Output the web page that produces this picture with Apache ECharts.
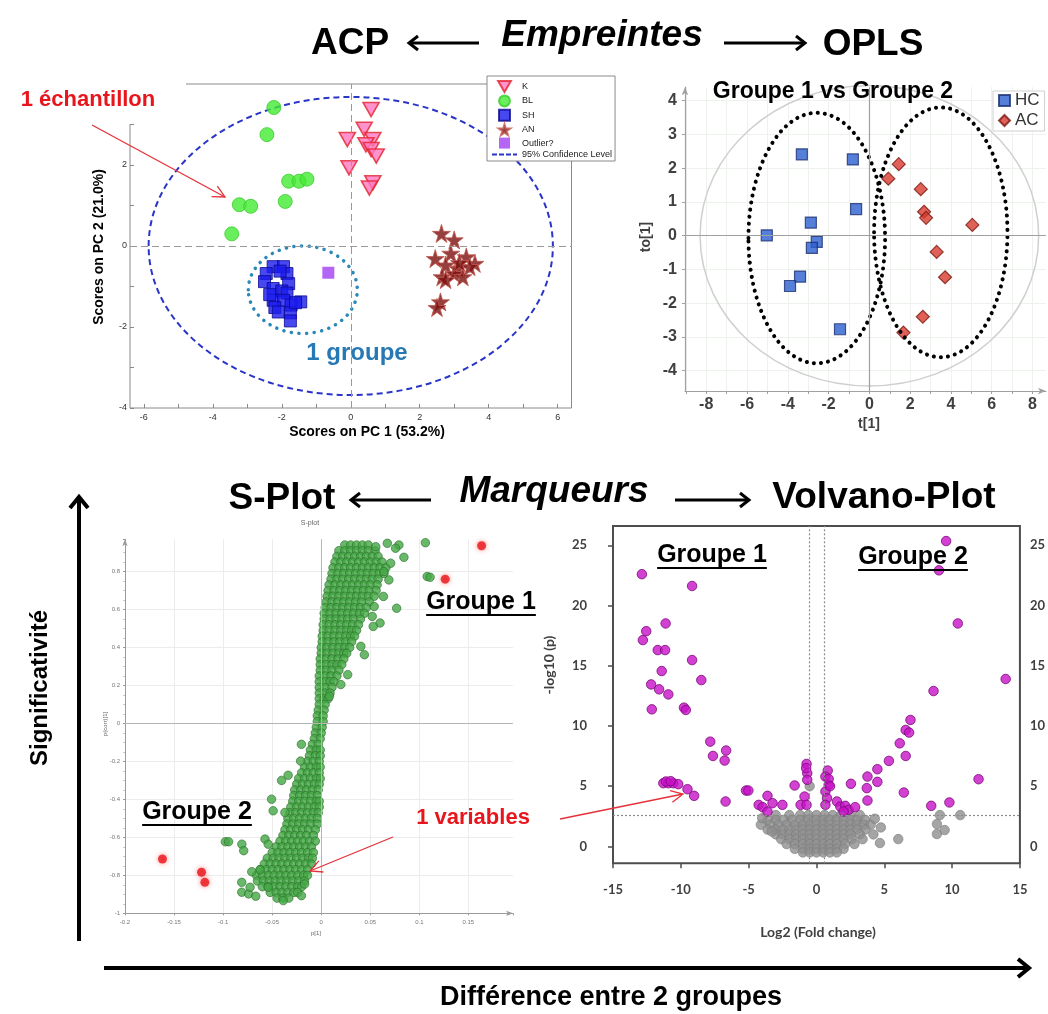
<!DOCTYPE html>
<html><head><meta charset="utf-8">
<script src="https://cdn.jsdelivr.net/npm/echarts@6/dist/echarts.min.js"></script>
<style>html,body{margin:0;padding:0;background:#fff}#c{width:1048px;height:1014px}</style>
</head><body><div id="c"></div>
<script>
// ================= DATA =================
// ACP (PCA scores)
const acpK = [[0.59,3.37],[0.39,2.88],[-0.10,2.63],[0.64,2.63],[0.44,2.50],[0.59,2.38],[0.74,2.22],[-0.05,1.93],[0.64,1.56],[0.54,1.43]];
const acpBL = [[-2.23,3.42],[-2.43,2.75],[-1.80,1.60],[-1.50,1.60],[-1.27,1.65],[-1.90,1.10],[-3.23,1.02],[-2.90,0.98],[-3.45,0.30]];
const acpSH = [[-2.25,-0.51],[-1.95,-0.51],[-2.45,-0.68],[-1.85,-0.68],[-2.50,-0.88],[-1.80,-0.93],[-2.25,-1.05],[-2.00,-1.11],[-1.85,-1.16],[-2.25,-1.34],[-1.95,-1.34],[-1.45,-1.38],[-2.20,-1.52],[-1.73,-1.46],[-1.75,-1.65],[-1.75,-1.85],[-2.10,-1.63],[-2.05,-0.62],[-2.35,-1.20],[-1.60,-1.40]];
const acpAN = [[2.63,0.31],[3.00,0.15],[2.45,-0.31],[2.90,-0.18],[3.35,-0.27],[3.60,-0.43],[2.75,-0.47],[3.10,-0.55],[3.45,-0.51],[2.65,-0.76],[3.00,-0.68],[3.25,-0.76],[2.60,-1.38],[2.50,-1.52],[3.15,-0.41],[2.75,-0.83]];
const acpOutlier = [[-0.65,-0.66]];
const acpConf95 = [[0, 0, 5.86, 3.68]];          // centre x, centre y, radius x, radius y
const acpGroupEllipse = [[-1.39, -1.08, 1.58, 1.08]];
const acpXTickLabels = [-6,-4,-2,0,2,4,6];
const acpXTicks = [-6,-5,-4,-3,-2,-1,0,1,2,3,4,5,6];
const acpYTickLabels = [-4,-2,0,2];
const acpYTicks = [-4,-3,-2,-1,0,1,2,3];

// OPLS
const oplsHC = [[-3.31,2.41],[-0.81,2.26],[-0.65,0.79],[-2.87,0.39],[-5.03,0.01],[-2.58,-0.18],[-2.82,-0.36],[-3.40,-1.21],[-3.89,-1.49],[-1.44,-2.77]];
const oplsAC = [[1.44,2.12],[0.93,1.69],[2.52,1.38],[2.68,0.71],[2.78,0.53],[5.05,0.32],[3.30,-0.48],[3.71,-1.23],[2.62,-2.40],[1.67,-2.87]];
const oplsT2 = [[0, 0, 8.3, 4.45]];
const oplsGroupEllipses = [[-2.58, -0.07, 3.35, 3.71],[3.50, 0.10, 3.27, 3.70]];
const oplsXTickLabels = [-8,-6,-4,-2,0,2,4,6,8];
const oplsXTicks = [-9,-8,-7,-6,-5,-4,-3,-2,-1,0,1,2,3,4,5,6,7,8];
const oplsYTickLabels = [-4,-3,-2,-1,0,1,2,3,4];

// S-plot : rows of [p(corr) value, p values...]
const sRows = [
 [0.94, .024,.030,.036,.042,.048],
 [0.91, .018,.024,.030,.036,.042,.048,.055],
 [0.88, .016,.022,.028,.034,.040,.046,.052,.058],
 [0.85, .014,.020,.026,.032,.038,.044,.050,.056,.062],
 [0.82, .012,.018,.024,.030,.036,.042,.048,.054,.060,.066],
 [0.79, .011,.017,.023,.029,.035,.041,.047,.053,.059,.064],
 [0.76, .010,.016,.022,.028,.034,.040,.046,.052,.058],
 [0.73, .008,.014,.020,.026,.032,.038,.044,.050,.057],
 [0.70, .007,.013,.019,.025,.031,.037,.043,.049,.056],
 [0.67, .006,.012,.018,.024,.030,.036,.042,.048,.054],
 [0.64, .005,.011,.017,.023,.029,.035,.041,.049],
 [0.61, .004,.010,.016,.022,.028,.034,.040,.046],
 [0.58, .003,.009,.015,.021,.027,.033,.039,.044],
 [0.55, .003,.009,.015,.021,.027,.033,.040],
 [0.52, .002,.008,.014,.020,.026,.032,.038],
 [0.49, .002,.008,.014,.020,.026,.031,.036],
 [0.46, .001,.007,.013,.019,.025,.030,.034],
 [0.43, .001,.007,.013,.019,.025,.031],
 [0.40, .000,.006,.012,.018,.024,.029],
 [0.37, .000,.006,.012,.018,.023,.026],
 [0.34, -.001,.005,.011,.017,.023],
 [0.31, -.001,.005,.011,.016,.021],
 [0.28, -.001,.005,.011,.018],
 [0.25, -.002,.004,.010,.016],
 [0.22, -.002,.004,.009,.013],
 [0.19, -.002,.004,.011],
 [0.16, -.002,.004,.009],
 [0.13, -.002,.003,.007],
 [0.10, -.002,.004],
 [0.07, -.003,.003],
 [0.04, -.004,.002],
 [0.01, -.004,.002],
 [-0.02, -.005,.001],
 [-0.05, -.006,.000],
 [-0.08, -.007,-.001],
 [-0.11, -.009,-.003],
 [-0.14, -.011,-.005,-.001],
 [-0.17, -.012,-.006,-.001],
 [-0.20, -.014,-.008,-.002],
 [-0.23, -.017,-.011,-.005,-.001],
 [-0.26, -.020,-.014,-.008,-.002],
 [-0.29, -.023,-.017,-.011,-.005,-.001],
 [-0.32, -.025,-.019,-.013,-.007,-.002],
 [-0.35, -.027,-.021,-.015,-.009,-.003],
 [-0.38, -.028,-.022,-.016,-.010,-.004],
 [-0.41, -.029,-.023,-.017,-.011,-.005,-.002],
 [-0.44, -.031,-.025,-.019,-.013,-.007,-.002],
 [-0.47, -.032,-.026,-.020,-.014,-.008,-.003],
 [-0.50, -.034,-.028,-.022,-.016,-.010,-.004],
 [-0.53, -.035,-.029,-.023,-.017,-.011,-.004],
 [-0.56, -.037,-.031,-.025,-.019,-.013,-.006],
 [-0.59, -.039,-.033,-.027,-.021,-.015,-.008],
 [-0.62, -.042,-.036,-.030,-.024,-.018,-.012,-.006],
 [-0.65, -.046,-.040,-.034,-.028,-.022,-.016,-.010],
 [-0.68, -.050,-.044,-.038,-.032,-.026,-.020,-.014,-.008],
 [-0.71, -.055,-.049,-.043,-.037,-.031,-.025,-.019,-.013,-.009],
 [-0.74, -.058,-.052,-.046,-.040,-.034,-.028,-.022,-.016,-.010],
 [-0.77, -.062,-.056,-.050,-.044,-.038,-.032,-.026,-.020,-.014],
 [-0.80, -.066,-.060,-.054,-.048,-.042,-.036,-.030,-.024,-.018,-.014],
 [-0.83, -.065,-.059,-.053,-.047,-.041,-.035,-.029,-.023,-.017],
 [-0.86, -.060,-.054,-.048,-.042,-.036,-.030,-.024,-.020],
 [-0.89, -.052,-.046,-.040,-.034,-.028,-.024],
 [-0.92, -.045,-.039,-.033]
];
const sScatter = [[0.0674,0.949],[0.0792,0.94],[0.1062,0.952],[0.0758,0.923],[0.0843,0.875],[0.0708,0.844],[0.108,0.774],[0.111,0.77],[0.064,0.80],[0.069,0.756],[0.0634,0.669],[0.0769,0.607],[0.054,0.616],[0.052,0.564],[0.060,0.529],[0.053,0.511],[0.044,0.362],[0.0404,0.406],[0.027,0.257],[0.020,0.205],[0.0084,0.143],[0.0556,0.931],
 [-0.0202,-0.110],[-0.021,-0.198],[-0.0404,-0.30],[-0.0337,-0.273],[-0.0506,-0.399],[-0.049,-0.46],[-0.037,-0.469],[-0.0977,-0.623],[-0.0944,-0.623],[-0.0809,-0.636],[-0.079,-0.67],[-0.0573,-0.609],[-0.054,-0.636],[-0.0708,-0.781],[-0.0624,-0.77],[-0.081,-0.837],[-0.081,-0.889],[-0.074,-0.898],[-0.0667,-0.91],[-0.0725,-0.863],[-0.054,-0.863],[-0.0387,-0.933],[-0.0202,-0.907],[-0.0169,-0.846]];
const sRed = [[-0.1618,-0.714],[-0.122,-0.784],[-0.1186,-0.837],[0.1264,0.76],[0.1635,0.936]];
const sXTickLabels = [-0.2,-0.15,-0.1,-0.05,0,0.05,0.1,0.15];
const sYTickLabels = [-1,-0.8,-0.6,-0.4,-0.2,0,0.2,0.4,0.6,0.8];

// Volcano plot
const volMagenta = [[-12.87,22.6],[-9.17,21.62],[-11.12,18.51],[-12.55,17.87],[-12.8,17.13],[-11.7,16.3],[-11.16,16.3],[-11.41,14.56],[-9.17,15.47],[-8.49,13.81],[-12.19,13.45],[-11.6,13.04],[-10.92,12.62],[-12.14,11.38],[-9.77,11.52],[-9.63,11.33],[-7.83,8.7],[-7.63,7.51],[-6.66,7.96],[-6.77,7.13],[-11.29,5.25],[-10.92,5.25],[-10.56,5.25],[-10.19,5.17],[-11.1,5.39],[-10.75,5.42],[-9.51,4.75],[-9.02,4.2],[-6.7,3.73],[-5.19,4.64],[-5.02,4.64],[-3.61,4.2],[-4.26,3.45],[-3.97,3.26],[-3.61,2.9],[-3.24,3.59],[-2.51,3.45],[-1.61,5.06],[-1.17,3.45],[-0.88,4.14],[-0.73,6.85],[-0.68,6.08],[-0.68,5.53],[-0.73,3.45],[-0.76,6.5],[0.83,6.3],[0.66,5.8],[0.9,5.11],[0.66,4.56],[0.78,4.01],[0.66,3.45],[0.9,5.6],[1.0,5.0],[1.51,3.73],[1.76,3.31],[2.12,3.37],[2.37,3.04],[2.85,3.26],[2.0,2.9],[2.54,5.2],[3.76,5.8],[3.71,4.84],[3.76,3.81],[4.49,6.41],[4.49,5.36],[5.34,7.1],[6.14,8.56],[6.58,9.67],[6.83,9.45],[6.93,10.5],[6.58,7.51],[6.44,4.47],[8.46,3.37],[9.8,3.65],[8.63,12.9],[9.03,22.92],[9.56,25.35],[10.42,18.51],[11.95,5.58],[13.95,13.9]];
const volGrayRows = [
 [2.6, -3.0,-2.0,-1.2,-0.6,0.0,0.6,1.2,1.8,2.5,3.2],
 [2.2, -3.6,-3.0,-2.4,-1.8,-1.2,-0.6,0.0,0.5,1.0,1.5,2.0,2.5,3.0,3.6],
 [1.8, -4.1,-3.4,-2.8,-2.2,-1.6,-1.0,-0.5,0.0,0.5,1.0,1.5,2.0,2.5,3.0,3.5,4.0],
 [1.4, -3.6,-3.0,-2.5,-2.0,-1.5,-1.0,-0.5,0.0,0.5,1.0,1.5,2.0,2.5,3.0,3.6],
 [1.0, -3.0,-2.5,-2.0,-1.5,-1.0,-0.5,0.0,0.5,1.0,1.5,2.0,2.5,3.2,4.2],
 [0.6, -2.6,-2.0,-1.5,-1.0,-0.5,0.0,0.5,1.0,1.5,2.0,2.6,3.4],
 [0.2, -2.2,-1.6,-1.0,-0.5,0.0,0.5,1.0,1.5,2.1,2.8],
 [-0.2, -1.6,-1.0,-0.5,0.0,0.5,1.0,1.5,2.0],
 [-0.5, -1.0,-0.5,0.0,0.5,1.0,1.5]
];
const volGrayScatter = [[9.1,2.6],[10.6,2.6],[8.88,1.86],[8.88,1.03],[9.45,1.36],[6.03,0.61],[4.68,0.28],[4.75,1.58],[4.3,2.3],[-4.0,2.35],[-3.3,1.24],[-0.5,5.0]];
const volFoldCut = [-0.56, 0.54];
const volPCut = 2.62;
const volYTickLabels = [0,5,10,15,20,25];

// ================= BUILD =================
const F = 'Liberation Sans, Arial, sans-serif';
const LATO = 'Lato, Liberation Sans, sans-serif';
const flattenRows = rows => { const out = []; rows.forEach(r => { for (let i = 1; i < r.length; i++) out.push([r[i], r[0]]); }); return out; };
const sGreen = flattenRows(sRows).concat(sScatter);
const volGray = flattenRows(volGrayRows).concat(volGrayScatter);

const triPath = 'path://M0,0L14,0L7,12Z';
const starPath = 'path://M50,0L61,35L98,35L68,57L79,91L50,70L21,91L32,57L2,35L39,35Z';
const sqPath = 'path://M0,0h10v10h-10z';
const dashPath = 'path://M0,0h5v2h-5zM7,0h5v2h-5zM14,0h5v2h-5zM21,0h4v2h-4z';

function ellipseSeries(name, xi, yi, data, style, z) {
  return {
    type: 'custom', name, xAxisIndex: xi, yAxisIndex: yi, data, silent: true, clip: false, z: z || 1,
    itemStyle: { color: style.stroke },
    renderItem(params, api) {
      const c = api.coord([api.value(0), api.value(1)]);
      const s = api.size([api.value(2), api.value(3)]);
      return { type: 'ellipse', shape: { cx: c[0], cy: c[1], rx: s[0], ry: s[1] },
        style: Object.assign({ fill: 'none' }, style) };
    }
  };
}

const ctx = document.createElement('canvas').getContext('2d');
function textW(t, size, weight) { ctx.font = (weight || 'bold') + ' ' + size + 'px "Liberation Sans", Arial'; return ctx.measureText(t).width; }

function txt(text, x, y, o) {
  o = o || {};
  return { type: 'text', x, y, rotation: o.rot || 0, z: 100,
    style: { text, x: 0, y: 0, fill: o.color || '#000', fontSize: o.size || 14, fontWeight: o.weight || 'bold',
      fontStyle: o.italic ? 'italic' : 'normal', fontFamily: o.family || F, align: 'center', verticalAlign: 'middle' } };
}
function underlined(text, x, y, size) {
  const w = textW(text, size);
  return [txt(text, x, y, { size }),
    { type: 'line', z: 100, shape: { x1: x - w / 2, y1: y + size * 0.52, x2: x + w / 2, y2: y + size * 0.52 }, style: { stroke: '#000', lineWidth: 2 } }];
}
function arrow(x1, y1, x2, y2, o) {
  const a = Math.atan2(y2 - y1, x2 - x1), L = o.len, H = o.half;
  const p1 = [x2 - L * Math.cos(a) + H * Math.sin(a), y2 - L * Math.sin(a) - H * Math.cos(a)];
  const p2 = [x2 - L * Math.cos(a) - H * Math.sin(a), y2 - L * Math.sin(a) + H * Math.cos(a)];
  return [
    { type: 'line', z: 90, shape: { x1, y1, x2, y2 }, style: { stroke: o.color, lineWidth: o.width } },
    { type: 'polyline', z: 90, shape: { points: [p1, [x2, y2], p2] }, style: { stroke: o.color, lineWidth: o.width, fill: 'none', lineJoin: 'miter' } }
  ];
}

const black = { color: '#000', width: 3, len: 9, half: 7 };
const big = { color: '#000', width: 4, len: 11, half: 9 };
const red = { color: '#e5323a', width: 1.3, len: 12, half: 6 };

const graphics = [
  { type: 'rect', z: 50, shape: { x: 124, y: 79, width: 62, height: 45 }, style: { fill: '#fff' } },
  txt('ACP', 350, 44, { size: 37 }),
  txt('Empreintes', 602, 36, { size: 37, italic: true }),
  txt('OPLS', 873, 45, { size: 37 }),
  txt('S-Plot', 282, 499, { size: 37 }),
  txt('Marqueurs', 554, 492, { size: 37, italic: true }),
  txt('Volvano-Plot', 884, 498, { size: 37 }),
  ...arrow(479, 43, 409, 43, black),
  ...arrow(724, 43, 805, 43, black),
  ...arrow(431, 500, 351, 500, black),
  ...arrow(675, 500, 749, 500, black),
  ...arrow(79, 941, 79, 497, big),
  ...arrow(104, 968, 1029, 968, big),
  txt('Différence entre 2 groupes', 611, 998, { size: 27 }),
  txt('Significativité', 40, 688, { size: 24, rot: Math.PI / 2 }),
  txt('1 échantillon', 88, 100, { size: 22, color: '#e8161c' }),
  ...arrow(92, 125, 225, 197, red),
  txt('1 groupe', 357, 353, { size: 24, color: '#2779b5' }),
  txt('1 variables', 473, 818, { size: 22, color: '#e8161c' }),
  ...arrow(393, 837, 310, 871, red),
  ...arrow(560, 819, 683, 794, red),
  ...underlined('Groupe 1', 481, 602, 25),
  ...underlined('Groupe 2', 197, 812, 25),
  ...underlined('Groupe 1', 712, 555, 25),
  ...underlined('Groupe 2', 913, 557, 25),
  txt('Groupe 1 vs Groupe 2', 833, 92, { size: 23 }),
  txt('Scores on PC 1 (53.2%)', 367, 432, { size: 14 }),
  txt('Scores on PC 2 (21.0%)', 99, 247, { size: 14, rot: Math.PI / 2 }),
  txt('t[1]', 869, 424, { size: 14, color: '#404040' }),
  txt('to[1]', 646, 237, { size: 14, color: '#404040', rot: Math.PI / 2 }),
  txt('S-plot', 310, 523, { size: 7, weight: 'normal', color: '#666' }),
  txt('p[1]', 316, 933, { size: 6, weight: 'normal', color: '#666' }),
  txt('p(corr)[1]', 105, 724, { size: 6, weight: 'normal', color: '#666', rot: Math.PI / 2 }),
  txt('Log2 (Fold change)', 818, 932, { size: 14, family: LATO, color: '#404040' }),
  txt('-log10 (p)', 549, 665, { size: 14, family: LATO, color: '#404040', rot: Math.PI / 2 })
];

const lbl = (extra) => Object.assign({ fontFamily: F, color: '#333' }, extra);

const option = {
  animation: false,
  backgroundColor: '#fff',
  grid: [
    { left: 130, right: 476.5, top: 84, bottom: 606, show: true, borderColor: '#8a8a8a', borderWidth: 1, backgroundColor: 'transparent' },
    { left: 685, right: 2, top: 87.2, bottom: 623, show: false },
    { left: 125, right: 535, top: 539.3, bottom: 100.7, show: false },
    { left: 613, right: 24, top: 526, bottom: 150.7, show: true, borderColor: '#4d4d4d', borderWidth: 2, backgroundColor: 'transparent' }
  ],
  xAxis: [
    { gridIndex: 0, type: 'value', min: -6.4, max: 6.4,
      axisLine: { show: false, onZero: false },
      axisTick: { show: true, inside: true, length: 4, customValues: acpXTicks, lineStyle: { color: '#888' } },
      axisLabel: lbl({ customValues: acpXTickLabels, fontSize: 9, margin: 5 }), splitLine: { show: false } },
    { gridIndex: 1, type: 'value', min: -9.04, max: 8.66, splitNumber: 18,
      axisLine: { show: true, onZero: false, symbol: ['none', 'arrow'], symbolSize: [5, 8], lineStyle: { color: '#a0a0a0', width: 1.2 } },
      axisTick: { show: true, length: 3, customValues: oplsXTicks, lineStyle: { color: '#a0a0a0' } },
      axisLabel: lbl({ customValues: oplsXTickLabels, fontSize: 16, fontWeight: 'bold', color: '#404040', margin: 6 }),
      splitLine: { show: true, lineStyle: { color: '#edf2ed' } } },
    { gridIndex: 2, type: 'value', min: -0.2, max: 0.1955, interval: 0.05,
      axisLine: { show: true, onZero: false, symbol: ['none', 'arrow'], symbolSize: [4, 7], lineStyle: { color: '#9a9a9a' } },
      axisTick: { show: true, length: 2, lineStyle: { color: '#9a9a9a' } },
      axisLabel: lbl({ customValues: sXTickLabels, fontSize: 6, color: '#777', margin: 6 }),
      splitLine: { show: true, showMaxLine: false, lineStyle: { color: '#ececec' } } },
    { gridIndex: 3, type: 'value', min: -15, max: 15, interval: 5,
      axisLine: { show: false, onZero: false },
      axisTick: { show: true, length: 5, lineStyle: { color: '#4d4d4d', width: 1.5 } },
      axisLabel: { fontFamily: LATO, fontSize: 13, fontWeight: 'bold', color: '#404040', margin: 20 },
      splitLine: { show: false } }
  ],
  yAxis: [
    { gridIndex: 0, type: 'value', min: -4, max: 4,
      axisLine: { show: false, onZero: false },
      axisTick: { show: true, inside: true, length: 4, customValues: acpYTicks, lineStyle: { color: '#888' } },
      axisLabel: lbl({ customValues: acpYTickLabels, fontSize: 9, margin: 3 }), splitLine: { show: false } },
    { gridIndex: 1, type: 'value', min: -4.6, max: 4.4, splitNumber: 9,
      axisLine: { show: true, onZero: false, symbol: ['none', 'arrow'], symbolSize: [5, 8], lineStyle: { color: '#a0a0a0', width: 1.2 } },
      axisTick: { show: true, length: 3, customValues: oplsYTickLabels, lineStyle: { color: '#a0a0a0' } },
      axisLabel: lbl({ customValues: oplsYTickLabels, fontSize: 16, fontWeight: 'bold', color: '#404040', margin: 8 }),
      splitLine: { show: true, lineStyle: { color: '#edf2ed' } } },
    { gridIndex: 2, type: 'value', min: -1, max: 0.97, interval: 0.2,
      axisLine: { show: true, onZero: false, symbol: ['none', 'arrow'], symbolSize: [4, 7], lineStyle: { color: '#9a9a9a' } },
      axisTick: { show: true, length: 2, lineStyle: { color: '#9a9a9a' } },
      minorTick: { show: true, splitNumber: 4, length: 1.5, lineStyle: { color: '#bbb' } },
      axisLabel: lbl({ customValues: sYTickLabels, fontSize: 6, color: '#777', margin: 5 }),
      splitLine: { show: true, showMaxLine: false, lineStyle: { color: '#ececec' } } },
    { gridIndex: 3, type: 'value', min: -1.4, max: 26.6,
      axisLine: { show: false, onZero: false },
      axisTick: { show: true, length: 5, customValues: volYTickLabels, lineStyle: { color: '#4d4d4d', width: 1.5 } },
      axisLabel: { customValues: volYTickLabels, fontFamily: LATO, fontSize: 13, fontWeight: 'bold', color: '#404040', margin: 26 },
      splitLine: { show: false } },
    { gridIndex: 3, type: 'value', min: -1.4, max: 26.6, position: 'right',
      axisLine: { show: false, onZero: false }, axisTick: { show: false },
      axisLabel: { customValues: volYTickLabels, fontFamily: LATO, fontSize: 13, fontWeight: 'bold', color: '#404040', margin: 10 },
      splitLine: { show: false } }
  ],
  legend: [
    { data: [{ name: 'K', icon: triPath }, { name: 'BL', icon: 'circle' }, { name: 'SH', icon: sqPath },
             { name: 'AN', icon: starPath }, { name: 'Outlier?', icon: sqPath }, { name: '95% Confidence Level', icon: dashPath }],
      orient: 'vertical', left: 487, top: 76, padding: [4, 3, 2, 5], itemGap: 1.4, itemWidth: 25, itemHeight: 11,
      backgroundColor: '#fff', borderColor: '#8a8a8a', borderWidth: 1, borderRadius: 0,
      textStyle: { fontFamily: F, fontSize: 9, color: '#222' }, selectedMode: false, z: 20 },
    { data: [{ name: 'HC', icon: 'rect' }, { name: 'AC', icon: 'diamond' }],
      orient: 'vertical', left: 993, top: 91, padding: [1, 5, 2, 5], itemGap: 3, itemWidth: 11, itemHeight: 11,
      backgroundColor: '#fff', borderColor: '#d0d0d0', borderWidth: 1, borderRadius: 0,
      textStyle: { fontFamily: F, fontSize: 17, color: '#333' }, selectedMode: false, z: 20 }
  ],
  graphic: graphics,
  series: [
    // ---------- ACP ----------
    ellipseSeries('95% Confidence Level', 0, 0, acpConf95, { stroke: '#2a35c8', lineWidth: 2, lineDash: [6, 4] }, 1),
    ellipseSeries('acpGroup', 0, 0, acpGroupEllipse, { stroke: '#2a88b8', lineWidth: 3.5, lineDash: [0.1, 7.5], lineCap: 'round' }, 4),
    { type: 'scatter', name: 'zeroACP', xAxisIndex: 0, yAxisIndex: 0, data: [], silent: true,
      markLine: { silent: true, symbol: 'none', label: { show: false }, animation: false,
        lineStyle: { color: '#999', type: [7, 4], width: 1 }, data: [{ xAxis: 0 }, { yAxis: 0 }] } },
    { type: 'scatter', name: 'K', xAxisIndex: 0, yAxisIndex: 0, data: acpK, symbol: triPath, symbolSize: [16, 14],
      itemStyle: { color: '#ff78c0', borderColor: '#e3222d', borderWidth: 1.6 }, z: 3 },
    { type: 'scatter', name: 'BL', xAxisIndex: 0, yAxisIndex: 0, data: acpBL, symbol: 'circle', symbolSize: 14,
      itemStyle: { color: '#44ea33', borderColor: '#3acc2a', borderWidth: 1 }, z: 3 },
    { type: 'scatter', name: 'SH', xAxisIndex: 0, yAxisIndex: 0, data: acpSH, symbol: 'rect', symbolSize: 12,
      itemStyle: { color: '#1a1aee', borderColor: '#0a0a90', borderWidth: 1 }, z: 3 },
    { type: 'scatter', name: 'AN', xAxisIndex: 0, yAxisIndex: 0, data: acpAN, symbol: starPath, symbolSize: 18,
      itemStyle: { color: '#7a0f0f', borderColor: '#c25a50', borderWidth: 1 }, z: 3 },
    { type: 'scatter', name: 'Outlier?', xAxisIndex: 0, yAxisIndex: 0, data: acpOutlier, symbol: 'rect', symbolSize: 12,
      itemStyle: { color: '#a33ff0' }, z: 3 },
    // ---------- OPLS ----------
    ellipseSeries('oplsT2', 1, 1, oplsT2, { stroke: '#cfcfcf', lineWidth: 1.5 }, 1),
    { type: 'scatter', name: 'zeroOPLS', xAxisIndex: 1, yAxisIndex: 1, data: [], silent: true,
      markLine: { silent: true, symbol: 'none', label: { show: false }, animation: false,
        lineStyle: { color: '#a0a0a0', type: 'solid', width: 1.2 }, data: [{ xAxis: 0 }, { yAxis: 0 }] } },
    { type: 'scatter', name: 'HC', xAxisIndex: 1, yAxisIndex: 1, data: oplsHC, symbol: 'rect', symbolSize: 11,
      itemStyle: { color: '#2c5fd0', borderColor: '#1b2f70', borderWidth: 1.2 }, z: 3 },
    { type: 'scatter', name: 'AC', xAxisIndex: 1, yAxisIndex: 1, data: oplsAC, symbol: 'diamond', symbolSize: 13,
      itemStyle: { color: '#d83a2e', borderColor: '#7a1a12', borderWidth: 1.2 }, z: 3 },
    ellipseSeries('oplsGroups', 1, 1, oplsGroupEllipses, { stroke: '#000', lineWidth: 4, lineDash: [0.1, 7], lineCap: 'round' }, 4),
    // ---------- S-plot ----------
    { type: 'scatter', name: 'zeroS', xAxisIndex: 2, yAxisIndex: 2, data: [], silent: true,
      markLine: { silent: true, symbol: 'none', label: { show: false }, animation: false,
        lineStyle: { color: '#b5b5b5', type: 'solid', width: 1 }, data: [{ xAxis: 0 }, { yAxis: 0 }] } },
    { type: 'scatter', name: 'sGreen', xAxisIndex: 2, yAxisIndex: 2, data: sGreen, symbol: 'circle', symbolSize: 8.5,
      itemStyle: { color: '#45a845', borderColor: '#2b6e2b', borderWidth: 0.8 }, z: 3 },
    { type: 'scatter', name: 'sRed', xAxisIndex: 2, yAxisIndex: 2, data: sRed, symbol: 'circle', symbolSize: 9,
      itemStyle: { color: '#e8141a', shadowBlur: 5, shadowColor: 'rgba(255,60,60,0.7)' }, z: 3 },
    // ---------- Volcano ----------
    { type: 'scatter', name: 'volGray', xAxisIndex: 3, yAxisIndex: 3, data: volGray, symbol: 'circle', symbolSize: 9.5,
      itemStyle: { color: '#8e8e8e', borderColor: '#7c7c7c', borderWidth: 0.8 }, z: 3,
      markLine: { silent: true, symbol: 'none', label: { show: false }, animation: false,
        lineStyle: { color: '#8a8a8a', type: [2, 2], width: 1.2 },
        data: [{ xAxis: volFoldCut[0] }, { xAxis: volFoldCut[1] }, { yAxis: volPCut }] } },
    { type: 'scatter', name: 'volMagenta', xAxisIndex: 3, yAxisIndex: 3, data: volMagenta, symbol: 'circle', symbolSize: 9.5,
      itemStyle: { color: '#c712c7', borderColor: '#7a0a7a', borderWidth: 1 }, z: 4 }
  ]
};

const chart = echarts.init(document.getElementById('c'), null, { renderer: 'canvas' });
chart.setOption(option);
</script></body></html>
